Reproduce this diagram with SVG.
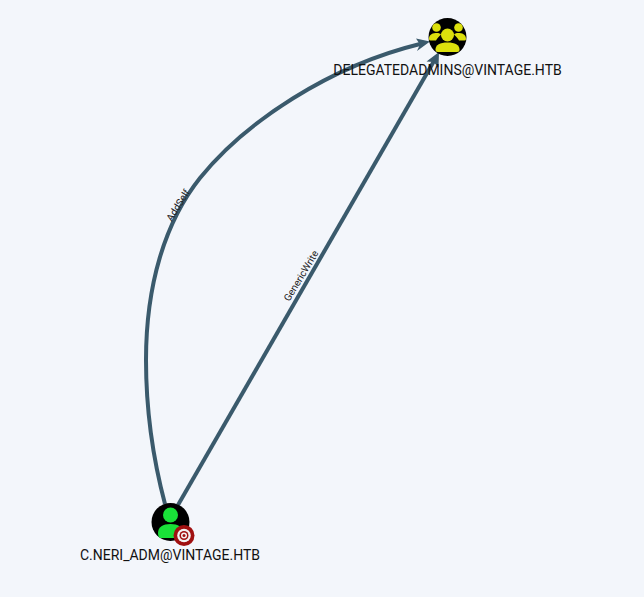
<svg xmlns="http://www.w3.org/2000/svg" width="644" height="597" viewBox="0 0 644 597">
<style>
.edge{fill:none;stroke:#3a5a6c;stroke-width:4}
.head{fill:#3a5a6c}
.nl{font-family:Roboto,"Liberation Sans",sans-serif;font-size:14px;fill:#111;text-anchor:middle}
.el{font-family:Roboto,"Liberation Sans",sans-serif;font-size:10px;fill:#222;text-anchor:middle}
</style>
<rect width="644" height="597" fill="#f3f6fb"/>
<g id="connectors">
<path class="edge" d="M165 504C152 455 146 405 146 360C146 285 165 222 200 178C245 122 330 66 420 44"/>
<path class="head" d="M430 41.500L417 51L420 44.500L416 38.500Z"/>
<path class="edge" d="M178 505L434 61"/>
<path class="head" d="M439 52L438.500 67.500L433.500 62L426.500 61.500Z"/>
<text class="el" transform="translate(178.500 205.500) rotate(-58)" y="3">AddSelf</text>
<text class="el" transform="translate(301.500 276) rotate(-59)" y="3">GenericWrite</text>
</g>
<g id="node-delegatedadmins">
<circle cx="447.500" cy="37" r="19" fill="#000"/>
<g fill="#dce00c">
<circle cx="436.500" cy="27.500" r="4.300"/>
<circle cx="458.500" cy="27.500" r="4.300"/>
<circle cx="447.500" cy="35" r="6.500"/>
<path d="M429 39C429 34 433 33 437 33C439 33 440 33.500 441 34.500C439 36.500 437 38.500 436 40.500H430.500Q429 40.500 429 39Z"/>
<path d="M466 39C466 34 462 33 458 33C456 33 455 33.500 454 34.500C456 36.500 458 38.500 459 40.500H464.500Q466 40.500 466 39Z"/>
<path d="M435.500 49.500C435.500 45 440 42.500 447.500 42.500C455 42.500 459.500 45 459.500 49.500Q459.500 52 457 52H438Q435.500 52 435.500 49.500Z"/>
</g>
<text class="nl" x="447.500" y="75">DELEGATEDADMINS@VINTAGE.HTB</text>
</g>
<g id="node-c-neri-adm">
<circle cx="170.500" cy="522" r="19" fill="#000"/>
<g fill="#19e038">
<circle cx="170.500" cy="515" r="7.500"/>
<path d="M158 533C158 527 163 524 170.500 524C178 524 183 527 183 533Q183 538 180 538H161Q158 538 158 533Z"/>
</g>
<circle cx="184" cy="535.500" r="10.500" fill="#a01010"/>
<circle cx="184" cy="535.500" r="6.800" fill="#f3f3f3"/>
<circle cx="184" cy="535.500" r="4.500" fill="#a01010"/>
<circle cx="184" cy="535.500" r="3" fill="#f3f3f3"/>
<circle cx="184" cy="535.500" r="1.500" fill="#a01010"/>
<text class="nl" x="170" y="560">C.NERI_ADM@VINTAGE.HTB</text>
</g>
</svg>
